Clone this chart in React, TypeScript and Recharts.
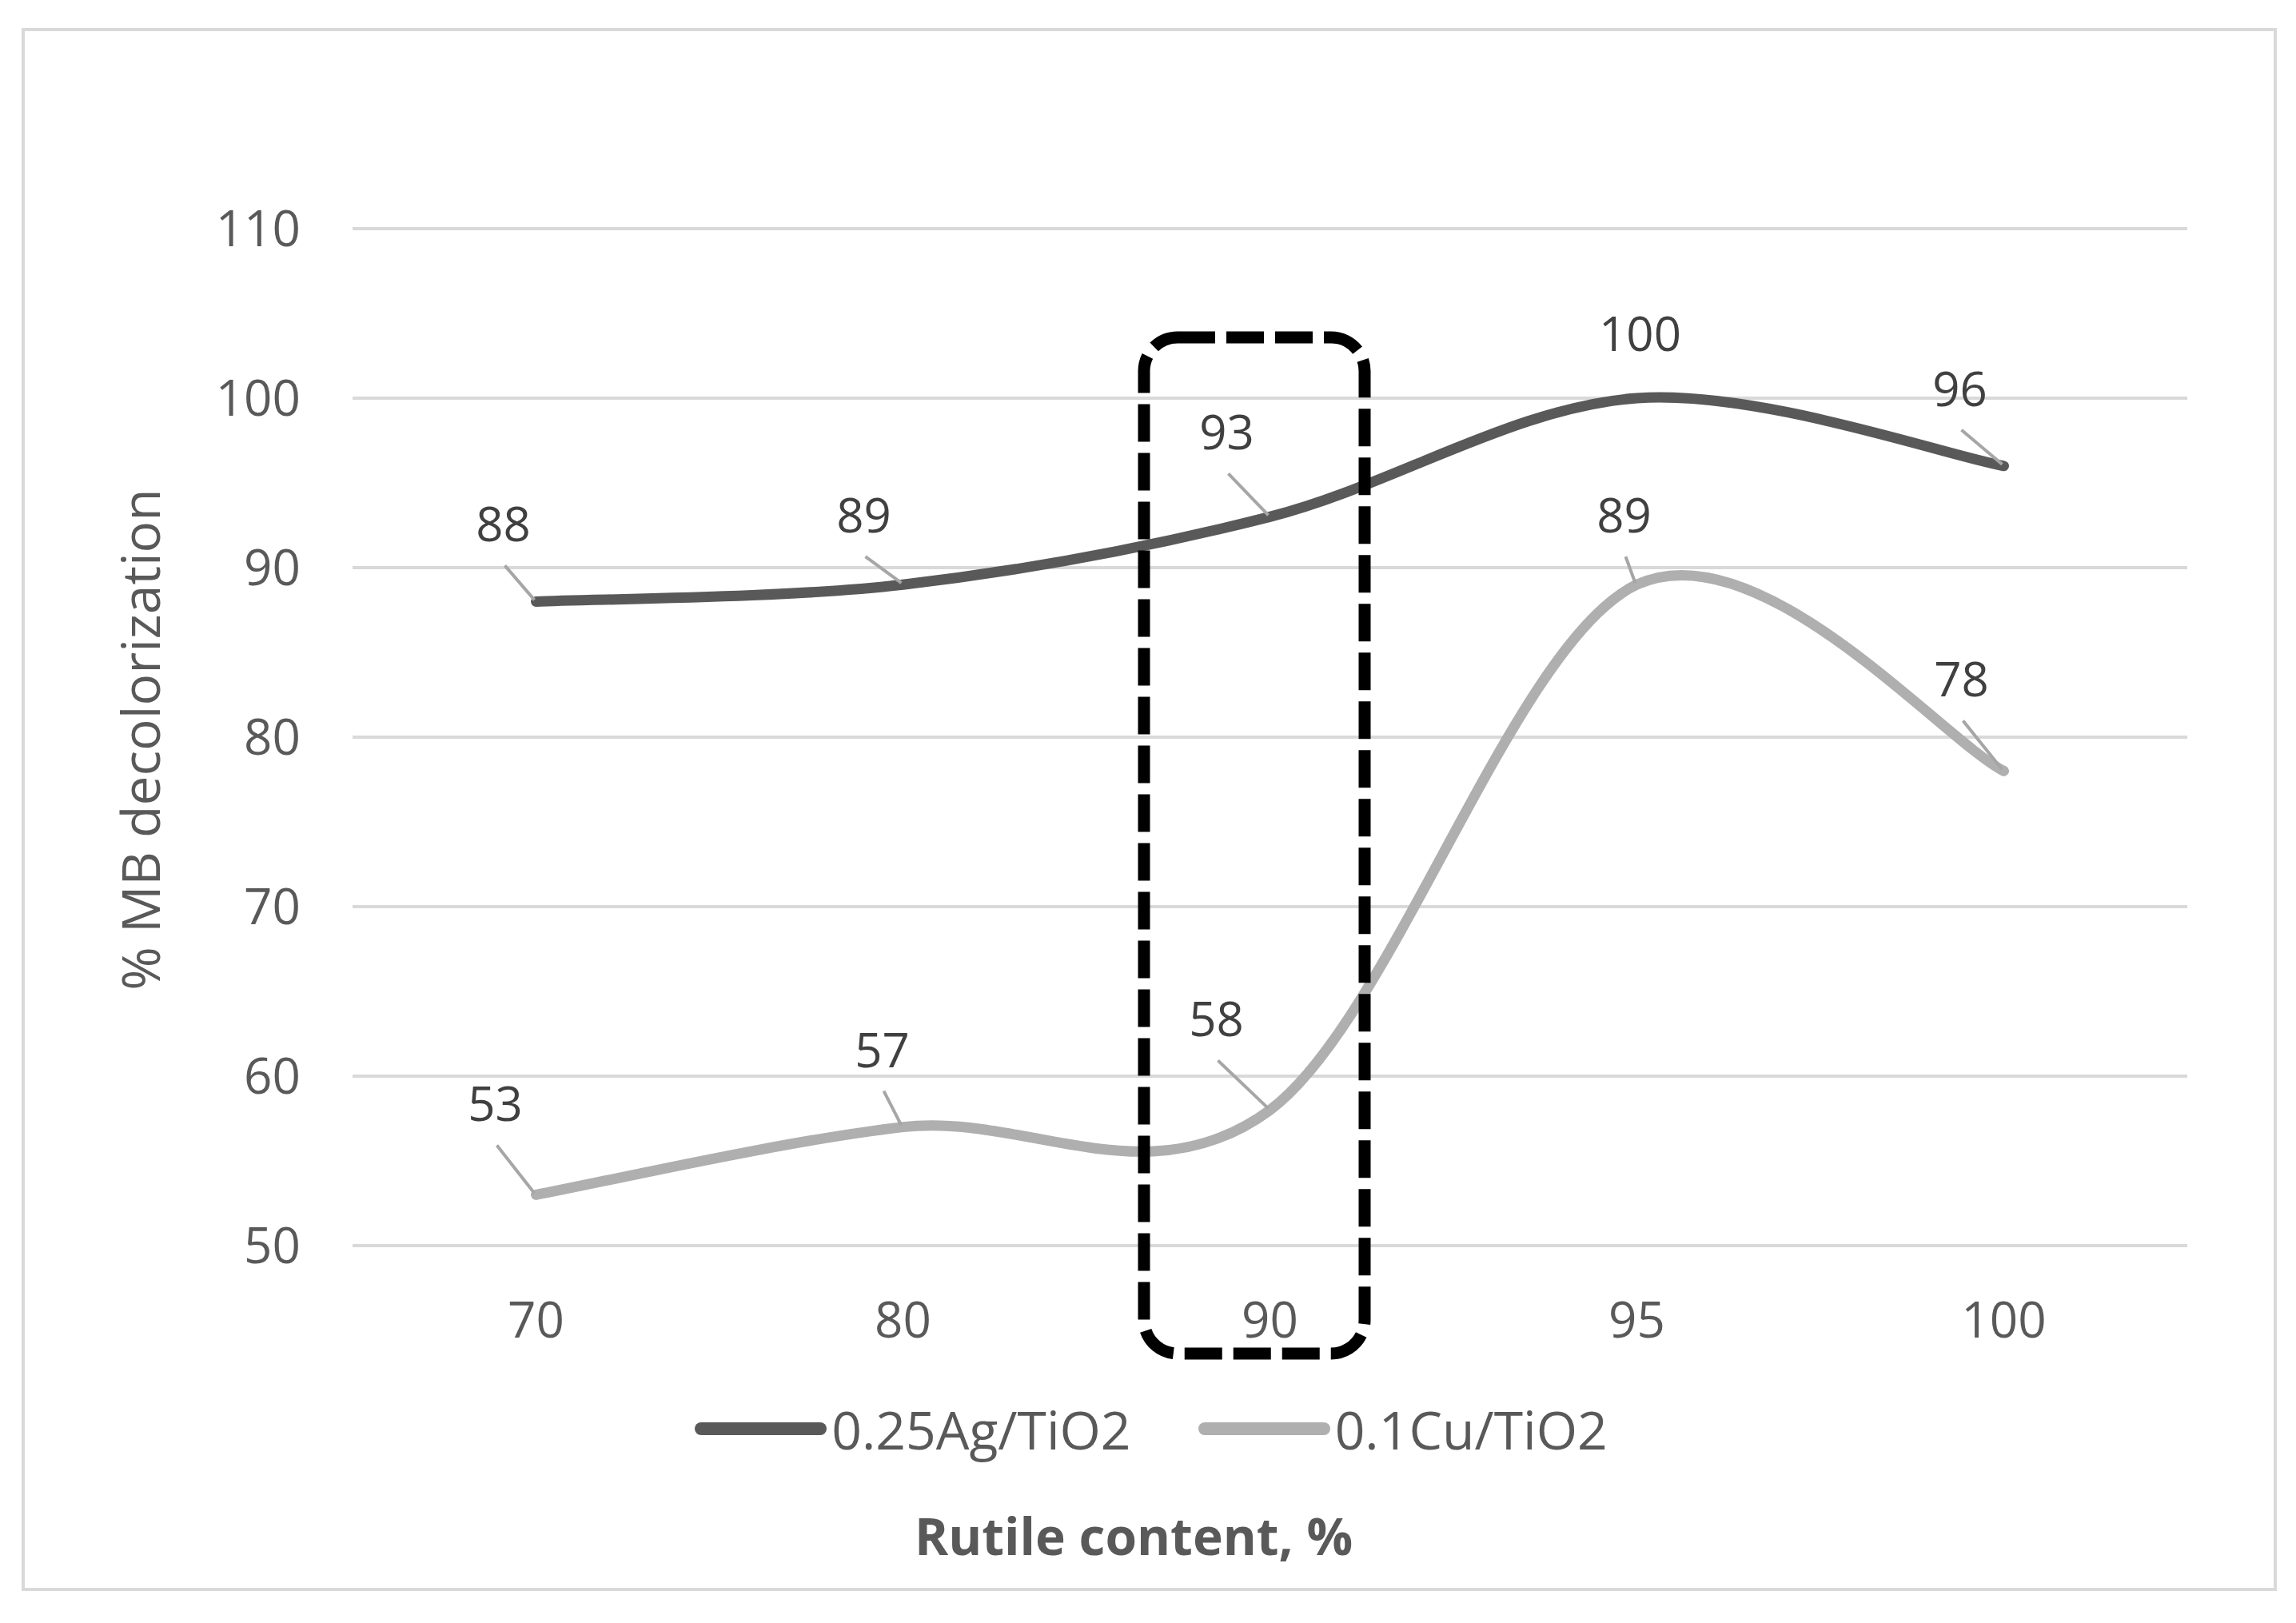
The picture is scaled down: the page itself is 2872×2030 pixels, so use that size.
import React from 'react'
import { LineChart, Line, XAxis, YAxis, CartesianGrid, Legend, LabelList } from 'recharts'

// chart data
const rutileContent = ['70', '80', '90', '95', '100']
const agValues = [88, 89, 93, 100, 96]
const cuValues = [53, 57, 58, 89, 78]
const yTicks = [50, 60, 70, 80, 90, 100, 110]
const seriesNames = ['0.25Ag/TiO2', '0.1Cu/TiO2']
const seriesColors = ['#595959', '#afafaf']

// where each data label was dragged to (px relative to its point), and whether it has a leader line
const agLabelShift: [number, number, boolean][] = [[-41, -98, true], [-49, -88, true], [-54, -107, true], [4, -82, false], [-55, -98, true]]
const cuLabelShift: [number, number, boolean][] = [[-51, -115, true], [-26, -98, true], [-67, -115, true], [-16, -88, true], [-53, -116, true]]

const FONT = '"Open Sans", sans-serif'
const W = 2872
const H = 2030

const data = rutileContent.map((r, i) => ({ rutile: r, ag: agValues[i], cu: cuValues[i] }))

// Excel-like smoothing: Catmull-Rom through every point
function excelSmooth(context: any) {
  let pts: number[][] = []
  return {
    areaStart() {},
    areaEnd() {},
    lineStart() {
      pts = []
    },
    point(x: number, y: number) {
      pts.push([+x, +y])
    },
    lineEnd() {
      const n = pts.length
      if (!n) return
      context.moveTo(pts[0][0], pts[0][1])
      for (let i = 0; i < n - 1; i++) {
        const p0 = pts[Math.max(i - 1, 0)]
        const p1 = pts[i]
        const p2 = pts[i + 1]
        const p3 = pts[Math.min(i + 2, n - 1)]
        context.bezierCurveTo(
          p1[0] + (p2[0] - p0[0]) / 6,
          p1[1] + (p2[1] - p0[1]) / 6,
          p2[0] - (p3[0] - p1[0]) / 6,
          p2[1] - (p3[1] - p1[1]) / 6,
          p2[0],
          p2[1]
        )
      }
    },
  }
}

function makeLabel(shifts: [number, number, boolean][]) {
  return (props: any) => {
    const { index, value } = props
    const x = props.x ?? props.viewBox?.x
    const y = props.y ?? props.viewBox?.y
    if (x == null || y == null) return null
    const [dx, dy, leader] = shifts[index] || [0, -80, false]
    const cx = x + dx
    const cy = y + dy
    return (
      <g>
        {leader && <line x1={cx + 2} y1={cy + 53} x2={x - 2} y2={y - 2} stroke="#a6a6a6" strokeWidth={4} />}
        <text x={cx} y={cy} textAnchor="middle" dominantBaseline="central" fontFamily={FONT} fontSize={60} fill="#404040">
          {value}
        </text>
      </g>
    )
  }
}

function renderLegend() {
  return (
    <div style={{ display: 'flex', justifyContent: 'center', alignItems: 'center', fontFamily: FONT, fontSize: 66, color: '#595959', lineHeight: '80px' }}>
      {seriesNames.map((name, i) => (
        <div key={name} style={{ display: 'flex', alignItems: 'center', marginLeft: i ? 84 : 0 }}>
          <div style={{ width: 165, height: 16, borderRadius: 8, background: seriesColors[i] }} />
          <span style={{ marginLeft: 6 }}>{name}</span>
        </div>
      ))}
    </div>
  )
}

export default function App() {
  return (
    <div style={{ position: 'absolute', left: 0, top: 0, width: W, height: H, background: '#fff', overflow: 'hidden' }}>
      <div style={{ position: 'absolute', left: 27, top: 35, width: 2821, height: 1955, border: '4px solid #d9d9d9', boxSizing: 'border-box' }} />
      <div style={{ position: 'absolute', left: 0, top: 0 }}>
        <LineChart width={W} height={H} data={data} margin={{ top: 286, right: 136, left: 141, bottom: 72 }}>
          <CartesianGrid horizontal vertical={false} stroke="#d9d9d9" strokeWidth={4} />
          <XAxis
            dataKey="rutile"
            type="category"
            padding={{ left: 229.5, right: 229.5 }}
            axisLine={false}
            tickLine={false}
            tickSize={0}
            tickMargin={71}
            height={400}
            tick={{ fontFamily: FONT, fontSize: 62, fill: '#595959' }}
            label={{
              content: () => (
                <text x={1418} y={1920} textAnchor="middle" dominantBaseline="central" fontFamily={FONT} fontSize={64} fontWeight="bold" fill="#595959">
                  Rutile content, %
                </text>
              ),
            }}
          />
          <YAxis
            domain={[50, 110]}
            ticks={yTicks}
            interval={0}
            width={300}
            axisLine={false}
            tickLine={false}
            tickSize={0}
            tickMargin={65}
            tick={{ fontFamily: FONT, fontSize: 62, fill: '#595959' }}
            label={{
              content: () => (
                <text x={174} y={925} transform="rotate(-90 174 925)" textAnchor="middle" dominantBaseline="central" fontFamily={FONT} fontSize={66} fill="#595959">
                  % MB decolorization
                </text>
              ),
            }}
          />
          <Legend verticalAlign="middle" align="center" layout="horizontal" content={renderLegend} wrapperStyle={{ top: 1747, left: 8, width: 2864 }} />
          <Line
            name={seriesNames[0]}
            dataKey="ag"
            type={excelSmooth as any}
            stroke={seriesColors[0]}
            strokeWidth={13}
            strokeLinecap="round"
            dot={false}
            activeDot={false}
            isAnimationActive={false}
          >
            <LabelList dataKey="ag" content={makeLabel(agLabelShift)} />
          </Line>
          <Line
            name={seriesNames[1]}
            dataKey="cu"
            type={excelSmooth as any}
            stroke={seriesColors[1]}
            strokeWidth={13}
            strokeLinecap="round"
            dot={false}
            activeDot={false}
            isAnimationActive={false}
          >
            <LabelList dataKey="cu" content={makeLabel(cuLabelShift)} />
          </Line>
        </LineChart>
      </div>
      {/* hand-drawn highlight around the 90 % point */}
      <svg style={{ position: 'absolute', left: 0, top: 0 }} width={W} height={H}>
        <rect x={1431} y={422} width={276} height={1271} rx={42} ry={42} fill="none" stroke="#000" strokeWidth={15} strokeDasharray="47 14" />
      </svg>
    </div>
  )
}
